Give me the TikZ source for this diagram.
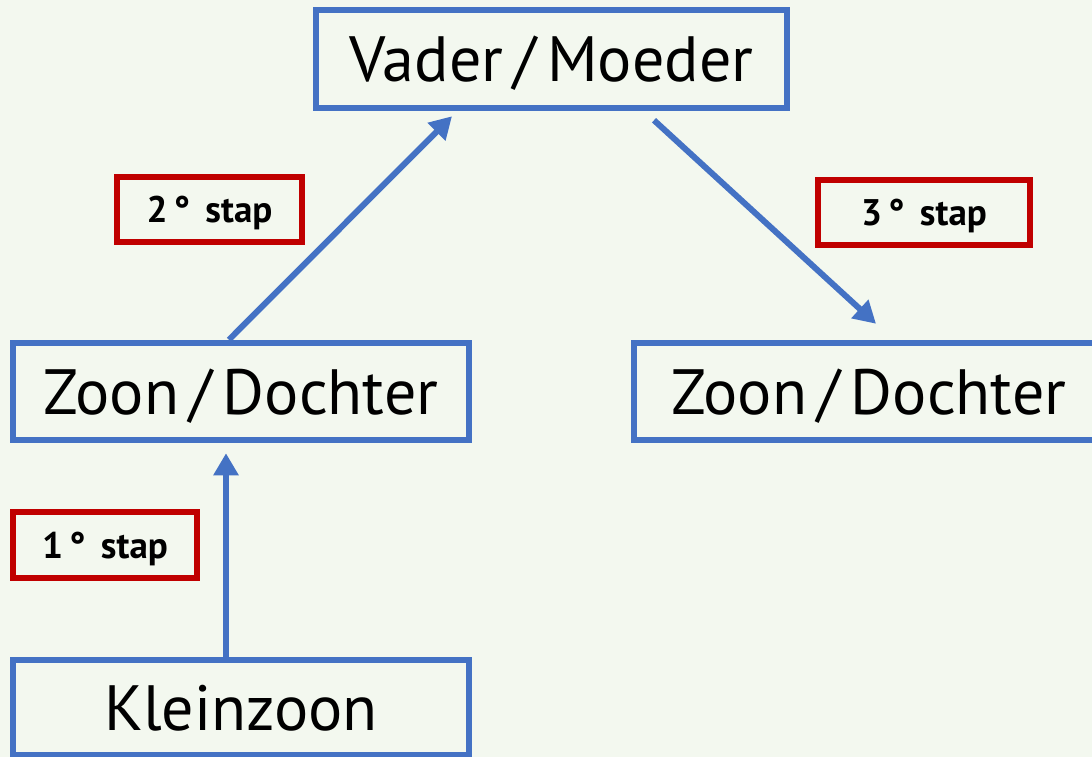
\documentclass[tikz,border=0pt]{standalone}
\usepackage{fontspec}
\setmainfont{PT Sans}
\usetikzlibrary{arrows.meta}
\definecolor{bluebox}{HTML}{4472C4}
\definecolor{redbox}{HTML}{C00000}
\definecolor{bgpat}{HTML}{F3F8EF}
\tikzset{
  x=1pt, y=-1pt,
  person/.style={draw=bluebox, line width=6.5pt, inner sep=0pt, text height=45pt, text depth=0pt, font=\fontsize{64}{66}\selectfont, text=black},
  steplabel/.style={draw=redbox, line width=6.5pt, inner sep=0pt, text height=26pt, text depth=0pt, font=\fontsize{37}{39}\selectfont\bfseries, text=black},
  arr/.style={draw=bluebox, line width=6pt, -{Triangle[length=22pt,width=24pt]}}
}
\begin{document}
\begin{tikzpicture}
\useasboundingbox (0,0) rectangle (1092,757);
\fill[bgpat] (0,0) rectangle (1092,757);
\clip (0,0) rectangle (1092,757);
\node[person, minimum width=471pt, minimum height=98pt] (vm) at (551.5,59) {Vader\,/\,Moeder};
\node[person, minimum width=456pt, minimum height=97pt] (zl) at (241,391.5) {Zoon\,/\,Dochter};
\node[person, minimum width=470pt, minimum height=97pt] (zr) at (869,391.5) {Zoon\,/\,Dochter};
\node[person, minimum width=456pt, minimum height=95pt] (kz) at (241,707.5) {Kleinzoon};
\node[steplabel, minimum width=185pt, minimum height=65pt] (s2) at (209.5,209.5) {2\,°\ \,stap};
\node[steplabel, minimum width=212pt, minimum height=65pt] (s3) at (924,212.5) {3\,°\ \,stap};
\node[steplabel, minimum width=184pt, minimum height=66pt] (s1) at (105,545) {1\,°\ \,stap};
\draw[arr] ([xshift=-15pt]kz.north) -- ([xshift=-15pt,yshift=-10pt]zl.south);
\draw[arr] ([xshift=-12pt]zl.north) -- ([xshift=-99.5pt,yshift=-5pt]vm.south);
\draw[arr] ([xshift=102.5pt,yshift=-9pt]vm.south) -- ([xshift=7pt,yshift=16pt]zr.north);
\end{tikzpicture}
\end{document}
